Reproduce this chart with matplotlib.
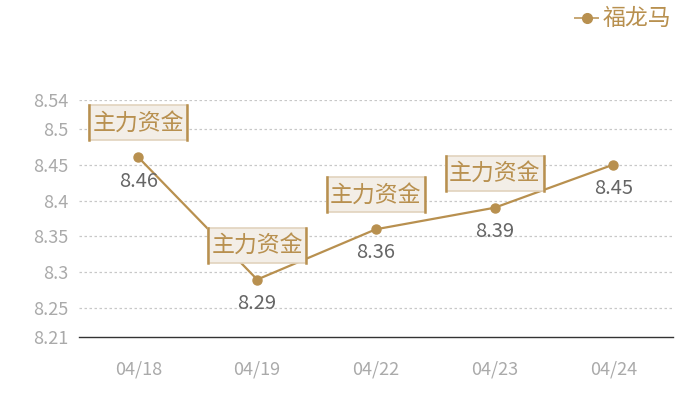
import matplotlib
matplotlib.use("Agg")
import matplotlib.pyplot as plt
from matplotlib.patches import Rectangle
from matplotlib.lines import Line2D

plt.rcParams['font.family'] = ['Noto Sans CJK SC', 'DejaVu Sans']

dates = ['04/18', '04/19', '04/22', '04/23', '04/24']
prices = [8.46, 8.29, 8.36, 8.39, 8.45]
yticks = [8.21, 8.25, 8.3, 8.35, 8.4, 8.45, 8.5, 8.54]
ytick_labels = ['8.21', '8.25', '8.3', '8.35', '8.4', '8.45', '8.5', '8.54']
series_name = '福龙马'
flag_text = '主力资金'
flag_idx = [0, 1, 2, 3]

gold = '#b8904f'

fig = plt.figure(figsize=(7, 4), dpi=100)
ax = fig.add_axes([0.113, 0.1575, 0.848, 0.5925])

x = list(range(len(dates)))
ax.plot(x, prices, color=gold, lw=1.6, marker='o', ms=6.5, zorder=3)

ax.set_xlim(-0.5, len(dates) - 0.5)
ax.set_ylim(yticks[0], yticks[-1])
ax.set_yticks(yticks)
ax.set_yticklabels(ytick_labels)
ax.set_xticks(x)
ax.set_xticklabels(dates)
ax.tick_params(length=0, colors='#aaaaaa', labelsize=13)
ax.tick_params(axis='x', pad=17)
ax.tick_params(axis='y', pad=8)
for t in ax.get_yticks()[1:]:
    ax.axhline(t, color='#c8c8c8', lw=0.9, ls=(0, (2, 2)), zorder=1)
for s in ['top', 'right', 'left']:
    ax.spines[s].set_visible(False)
ax.spines['bottom'].set_color('#333333')
ax.spines['bottom'].set_linewidth(1)

# value labels under points
for i, v in zip(x, prices):
    ax.annotate(f'{v:.2f}', (i, v), xytext=(0, -17), textcoords='offset points',
                ha='center', va='center', fontsize=14.5, color='#666666', zorder=4)

# flag boxes above points (drawn in pixel coords)
for i in flag_idx:
    px, py = ax.transData.transform((x[i], prices[i]))
    w, h = 98, 35
    left = px - w / 2
    bottom = py + 17
    fig.patches.append(Rectangle((left, bottom), w, h, transform=None,
                                 facecolor='#f3eee7', edgecolor='#e2d3bd',
                                 lw=1.2, zorder=5))
    for xx in (left, left + w):
        fig.lines.append(Line2D([xx, xx], [bottom, bottom + h], transform=None,
                                color=gold, lw=1.8, zorder=6))
    fig.text(px / 700, (bottom + h / 2) / 400, flag_text, ha='center', va='center',
             fontsize=16.5, color=gold, zorder=7)

# legend
fig.lines.append(Line2D([0.822, 0.854], [0.955, 0.955], transform=fig.transFigure,
                        color=gold, lw=1.4, alpha=0.8))
fig.lines.append(Line2D([0.838], [0.955], transform=fig.transFigure,
                        color=gold, marker='o', ms=7, lw=0))
fig.text(0.861, 0.953, series_name, ha='left', va='center', fontsize=16.5, color=gold)

fig.savefig('out.png', dpi=100)
